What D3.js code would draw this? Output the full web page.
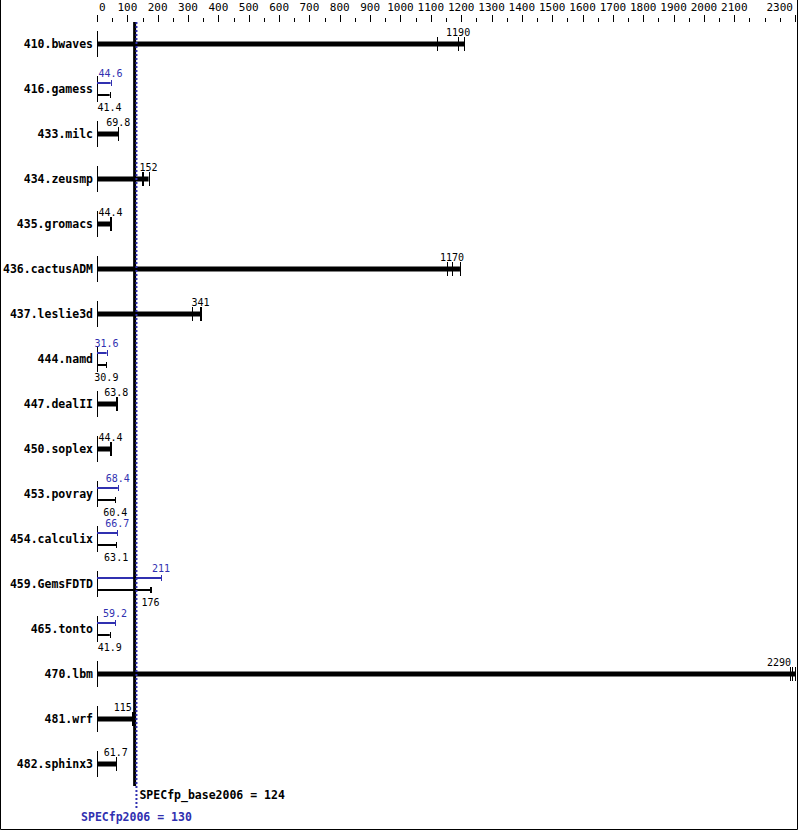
<!DOCTYPE html>
<html><head><meta charset="utf-8">
<script src="https://cdn.jsdelivr.net/npm/d3@7"></script>
<style>body{margin:0;background:#fff} svg{display:block}</style>
</head><body><script>
const benchmarks = ["410.bwaves","416.gamess","433.milc","434.zeusmp","435.gromacs","436.cactusADM","437.leslie3d","444.namd","447.dealII","450.soplex","453.povray","454.calculix","459.GemsFDTD","465.tonto","470.lbm","481.wrf","482.sphinx3"];
const baseValues = [1190, 41.4, 69.8, 152, 44.4, 1170, 341, 30.9, 63.8, 44.4, 60.4, 63.1, 176, 41.9, 2290, 115, 61.7];
const baseLow    = [1120, 41.2, 69.5, 147, 44.2, 1152, 312, 30.8, 63.5, 44.2, 60.2, 62.9, 175, 41.8, 2285, 114, 61.5];
const baseHigh   = [1210, 41.6, 70.5, 170, 46.0, 1196, 343, 31.0, 66.5, 44.8, 60.8, 63.5, 179, 42.1, 2300, 117, 63.5];
const peakValues = [null, 44.6, null, null, null, null, null, 31.6, null, null, 68.4, 66.7, 211, 59.2, null, null, null];
const peakHigh   = [null, 44.9, null, null, null, null, null, 31.8, null, null, 68.7, 67.0, 212, 59.5, null, null, null];
const axisTicks = d3.range(0, 2301, 50);
const axisLabels = [0,100,200,300,400,500,600,700,800,900,1000,1100,1200,1300,1400,1500,1600,1700,1800,1900,2000,2100,2300];
const meanBase = 124, meanPeak = 130;
const baseLabel = "SPECfp_base2006 = 124";
const peakLabel = "SPECfp2006 = 130";

const W = 799, H = 831;
const BLUE = "#3030b0";
const MONO = "'DejaVu Sans Mono', 'Liberation Mono', monospace";

const svg = d3.select("body").append("svg").attr("width", W).attr("height", H);

const x = d3.scaleLinear().domain([0, 2300]).range([97, 795]);
const y = d3.scalePoint().domain(benchmarks).range([44, 764]);
const px = v => Math.round(x(v)) + 0.5;

// border
svg.append("path").attr("d", `M0.5,0 V${H-1.5} H${W-1.5} V0`)
  .attr("fill","none").attr("stroke","#000").attr("stroke-width",1);

// top axis
const ax = svg.append("g");
ax.selectAll("line.t").data(axisTicks).join("line")
  .attr("x1", d => px(d)).attr("x2", d => px(d))
  .attr("y1", d => axisLabels.includes(d) ? 15 : 18).attr("y2", 22)
  .attr("stroke","#000").attr("stroke-width",1);
ax.selectAll("text").data(axisLabels).join("text")
  .attr("x", (d,i) => i === 0 ? x(d) + 2 : (i === axisLabels.length-1 ? x(d) - 2 : x(d)))
  .attr("y", 11)
  .attr("text-anchor", (d,i) => i === 0 ? "start" : (i === axisLabels.length-1 ? "end" : "middle"))
  .attr("font-family", MONO).attr("font-size", "11px").attr("fill","#000")
  .text(d => d);

const xm0 = x(meanBase) - 3, xm1 = x(meanPeak) + 3;
function placeLabel(v, str) {
  const w = str.length * 6.02;
  let cx = x(v), anchor = "middle";
  if (cx + w/2 > 791) { cx = 791; anchor = "end"; }
  else if (cx + w/2 > xm0 && cx - w/2 < xm1) {
    if (v < meanBase) { cx = x(v); anchor = "end"; }
    else { cx = xm1; anchor = "start"; }
  }
  return {cx, anchor};
}

const rows = svg.append("g");
benchmarks.forEach((b, i) => {
  const cy = y(b);
  const g = rows.append("g");
  g.append("text").attr("x", 93).attr("y", cy + 4).attr("text-anchor","end")
    .attr("font-family", MONO).attr("font-size","11.5px").attr("font-weight","bold").text(b);
  g.append("line").attr("x1", px(0)).attr("x2", px(0)).attr("y1", cy - 13).attr("y2", cy + 13)
    .attr("stroke","#000");
  const fmt = v => String(v);
  if (peakValues[i] == null) {
    g.append("rect").attr("x", x(0)).attr("y", cy - 2.5)
      .attr("width", x(baseHigh[i]) - x(0)).attr("height", 5).attr("fill","#000");
    [baseLow[i], baseValues[i], baseHigh[i]].forEach(v => {
      g.append("line").attr("x1", px(v)).attr("x2", px(v)).attr("y1", cy - 7).attr("y2", cy + 7)
        .attr("stroke","#000");
    });
    const s = fmt(baseValues[i]);
    const p = placeLabel(baseValues[i], s);
    g.append("text").attr("x", p.cx).attr("y", cy - 8).attr("text-anchor", p.anchor)
      .attr("font-family", MONO).attr("font-size","10px").text(s);
  } else {
    const yp = cy - 6, yb = cy + 6;
    g.append("line").attr("x1", x(0)).attr("x2", x(peakHigh[i])).attr("y1", yp).attr("y2", yp)
      .attr("stroke", BLUE).attr("stroke-width", 2);
    g.append("line").attr("x1", px(peakHigh[i])).attr("x2", px(peakHigh[i])).attr("y1", yp - 3).attr("y2", yp + 3)
      .attr("stroke", BLUE);
    g.append("line").attr("x1", px(peakValues[i])).attr("x2", px(peakValues[i])).attr("y1", yp - 3).attr("y2", yp + 3)
      .attr("stroke", BLUE);
    g.append("line").attr("x1", x(0)).attr("x2", x(baseHigh[i])).attr("y1", yb).attr("y2", yb)
      .attr("stroke", "#000").attr("stroke-width", 2);
    g.append("line").attr("x1", px(baseHigh[i])).attr("x2", px(baseHigh[i])).attr("y1", yb - 3).attr("y2", yb + 3)
      .attr("stroke", "#000");
    g.append("line").attr("x1", px(baseValues[i])).attr("x2", px(baseValues[i])).attr("y1", yb - 3).attr("y2", yb + 3)
      .attr("stroke", "#000");
    const sp = fmt(peakValues[i]), sb = fmt(baseValues[i]);
    const pp = placeLabel(peakValues[i], sp), pb = placeLabel(baseValues[i], sb);
    g.append("text").attr("x", pp.cx).attr("y", cy - 12).attr("text-anchor", pp.anchor)
      .attr("font-family", MONO).attr("font-size","10px").attr("fill", BLUE).text(sp);
    g.append("text").attr("x", pb.cx).attr("y", cy + 22).attr("text-anchor", pb.anchor)
      .attr("font-family", MONO).attr("font-size","10px").attr("fill", "#000").text(sb);
  }
});

// mean lines
svg.append("line").attr("x1", x(meanBase)).attr("x2", x(meanBase)).attr("y1", 22).attr("y2", 786)
  .attr("stroke","#000").attr("stroke-width",3);
svg.append("line").attr("x1", x(meanPeak)).attr("x2", x(meanPeak)).attr("y1", 22).attr("y2", 808)
  .attr("stroke", BLUE).attr("stroke-width",2).attr("stroke-dasharray","2,2");

svg.append("text").attr("x", x(meanPeak) + 3).attr("y", 799)
  .attr("font-family", MONO).attr("font-size","11.5px").attr("font-weight","bold").attr("fill","#000")
  .text(baseLabel);
svg.append("text").attr("x", x(meanPeak)).attr("y", 821).attr("text-anchor","middle")
  .attr("font-family", MONO).attr("font-size","11.5px").attr("font-weight","bold").attr("fill", BLUE)
  .text(peakLabel);
</script></body></html>
